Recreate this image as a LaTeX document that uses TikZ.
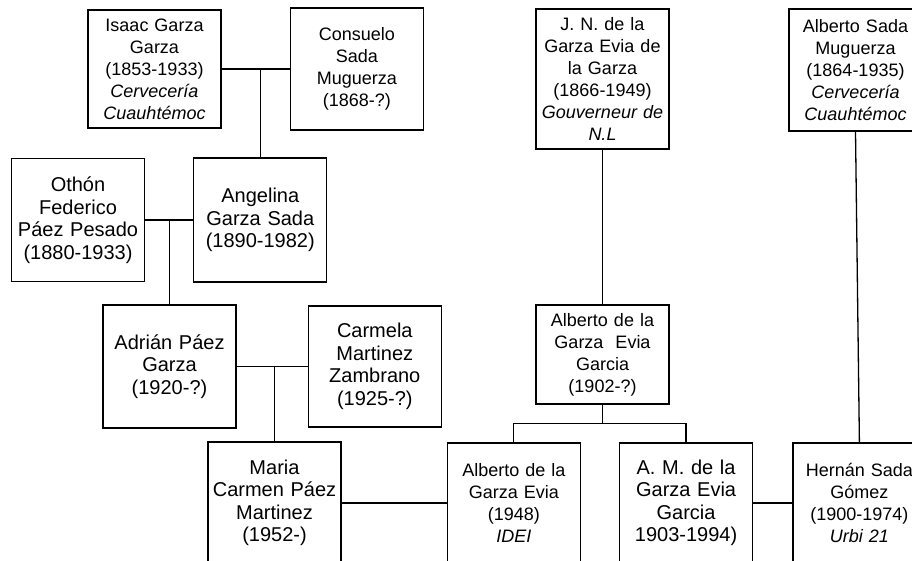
\documentclass[tikz,border=0pt]{standalone}
\usepackage{fontspec}
\setmainfont{Liberation Sans}
\usetikzlibrary{positioning}
\tikzset{
	person/.style={rectangle, draw, line width=1.3pt, text width=125pt,
		inner xsep=4pt, inner ysep=0pt, align=center,
		font=\fontsize{18}{22}\selectfont},
	bperson/.style={person, font=\fontsize{20}{22.5}\selectfont},
	link/.style={line width=1.3pt},
}
\begin{document}
\begin{tikzpicture}[x=1pt, y=-1pt]
	\useasboundingbox (0,0) rectangle (912,560);
	\clip (0,0) rectangle (912,560);
	\node[person, minimum height=118pt] (isaac) at (154.5,69) {Isaac Garza\\Garza\\(1853-1933)\\\textit{Cervecería}\\\textit{Cuauhtémoc}};
	\node[person, minimum height=122pt, right=68pt of isaac] (consuelo) {Consuelo\\Sada\\Muguerza\\(1868-?)};
	\node[bperson, minimum height=123pt] (othon) at (78,220) {Othón\\Federico\\Páez Pesado\\(1880-1933)};
	\node[bperson, minimum height=124pt, right=48pt of othon] (angelina) {Angelina\\Garza Sada\\(1890-1982)};
	\node[bperson, minimum height=123pt] (adrian) at (169.5,366.5) {Adrián Páez\\Garza\\(1920-?)};
	\node[bperson, minimum height=121pt, right=71pt of adrian] (carmela) {Carmela\\Martinez\\Zambrano\\(1925-?)};
	\node[bperson, minimum height=122pt] (maria) at (274.5,503) {Maria\\Carmen Páez\\Martinez\\(1952-)};
	\node[person, minimum height=120pt, right=105pt of maria] (albertoE) {Alberto de la\\Garza Evia\\(1948)\\\textit{IDEI}};
	\node[bperson, minimum height=120pt, right=38pt of albertoE] (am) {A. M. de la\\Garza Evia\\Garcia\\1903-1994)};
	\node[person, minimum height=120pt, right=39pt of am] (hernan) {Hernán Sada\\Gómez\\(1900-1974)\\\textit{Urbi 21}};
	\node[person, minimum height=140pt] (jn) at (602.5,79) {J. N. de la\\Garza Evia de\\la Garza\\(1866-1949)\\\textit{Gouverneur de}\\\textit{N.L}};
	\node[person, minimum height=99pt] (albertoG) at (602.5,354.5) {Alberto de la\\Garza\ \ Evia\\Garcia\\(1902-?)};
	\node[person, minimum height=122pt] (asada) at (855.5,70) {Alberto Sada\\Muguerza\\(1864-1935)\\\textit{Cervecería}\\\textit{Cuauhtémoc}};

	\draw[link] (isaac.east) -- (isaac.east -| consuelo.west);
	\draw[link] (angelina.north) -- (angelina.north |- isaac.east);
	\draw[link] (othon.east) -- (angelina.west);
	\draw[link] (adrian.north) -- (adrian.north |- othon.east);
	\draw[link] (adrian.east) -- (carmela.west);
	\draw[link] (maria.north) -- (maria.north |- adrian.east);
	\draw[link] (maria.east) -- (albertoE.west);
	\draw[link] (jn.south) -- (albertoG.north);
	\draw[link] (albertoG.south) -- ++(0,19) coordinate (fork);
	\draw[link] (albertoE.north) |- (fork) -| (am.north);
	\draw[link] (am.east) -- (hernan.west);
	\draw[link] (asada.south) -- (hernan.north);
\end{tikzpicture}
\end{document}
